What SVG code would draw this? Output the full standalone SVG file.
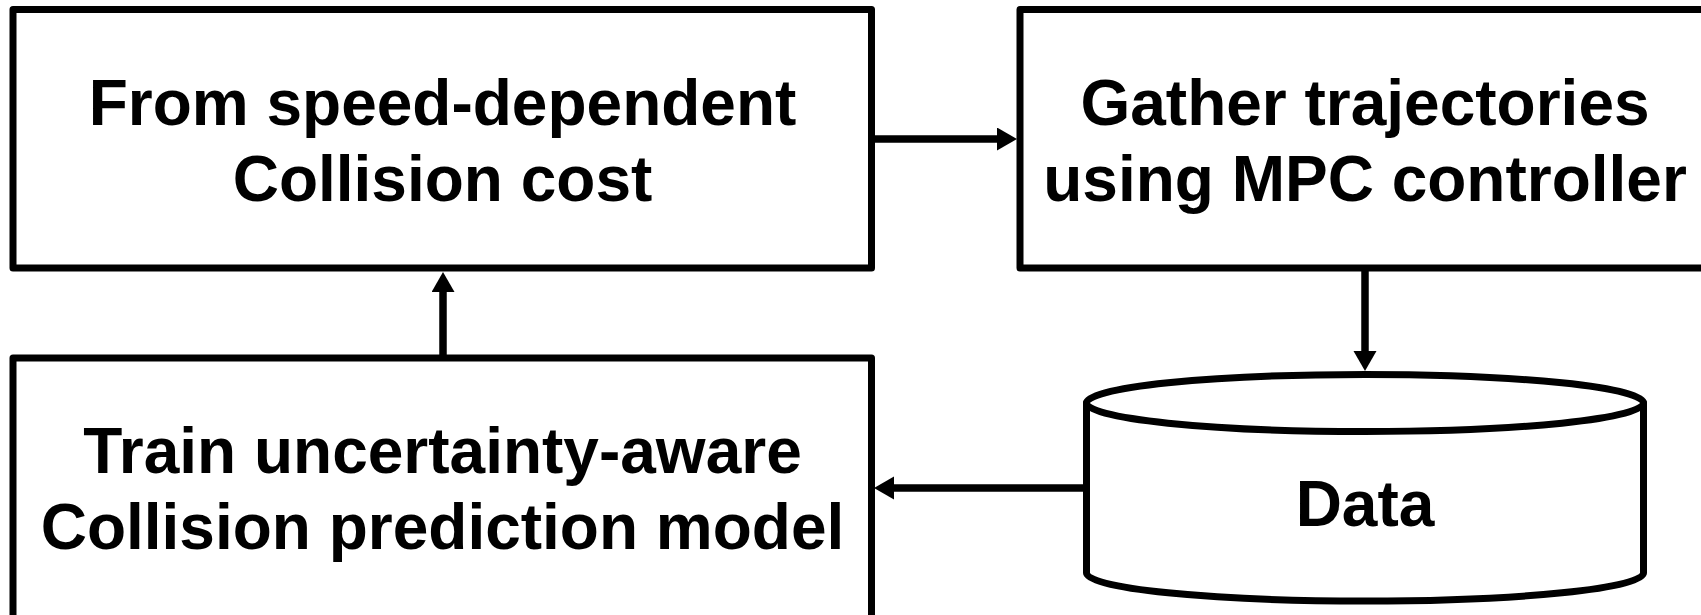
<svg xmlns="http://www.w3.org/2000/svg" width="1701" height="615" viewBox="0 0 1701 615">
  <style>
    .box { fill: #ffffff; stroke: #000000; stroke-width: 7; stroke-linejoin: round; }
    .label { font-family: "Liberation Sans", Arial, sans-serif; font-weight: bold; font-size: 64px; fill: #000000; text-anchor: middle; }
    .edge { fill: none; stroke: #000000; stroke-width: 7.5; }
  </style>
  <defs>
    <marker id="arrow" markerUnits="userSpaceOnUse" markerWidth="22" markerHeight="24" refX="2" refY="11.5" orient="auto">
      <path d="M0,0 L20,11.5 L0,23 Z" fill="#000000"/>
    </marker>
  </defs>
  <rect width="1701" height="615" fill="#ffffff"/>

  <!-- Cost definition -->
  <g id="node-cost">
    <rect class="box" x="13" y="9.5" width="858.5" height="258.5"/>
    <text class="label" x="442.5" y="124.5">From speed-dependent</text>
    <text class="label" x="442.5" y="200.5">Collision cost</text>
  </g>

  <!-- Trajectory collection -->
  <g id="node-gather">
    <rect class="box" x="1020" y="9.5" width="700" height="258.5"/>
    <text class="label" x="1365" y="124.5">Gather trajectories</text>
    <text class="label" x="1365" y="200.5">using MPC controller</text>
  </g>

  <!-- Model training -->
  <g id="node-train">
    <rect class="box" x="13" y="358" width="858.5" height="280"/>
    <text class="label" x="442.5" y="473">Train uncertainty-aware</text>
    <text class="label" x="442.5" y="549">Collision prediction model</text>
  </g>

  <!-- Data store -->
  <g id="node-data">
    <path class="box" d="M1086.5,403 L1086.5,573 A278.5,28 0 0 0 1643.5,573 L1643.5,403 Z"/>
    <ellipse class="box" cx="1365" cy="403" rx="278.5" ry="28.5"/>
    <text class="label" x="1365" y="526">Data</text>
  </g>

  <!-- Connectors -->
  <g id="connectors">
    <line class="edge" x1="871.5" y1="139" x2="999" y2="139" marker-end="url(#arrow)"/>
    <line class="edge" x1="1365" y1="268" x2="1365" y2="353" marker-end="url(#arrow)"/>
    <line class="edge" x1="1086.5" y1="488" x2="892" y2="488" marker-end="url(#arrow)"/>
    <line class="edge" x1="443" y1="358" x2="443" y2="290" marker-end="url(#arrow)"/>
  </g>
</svg>
